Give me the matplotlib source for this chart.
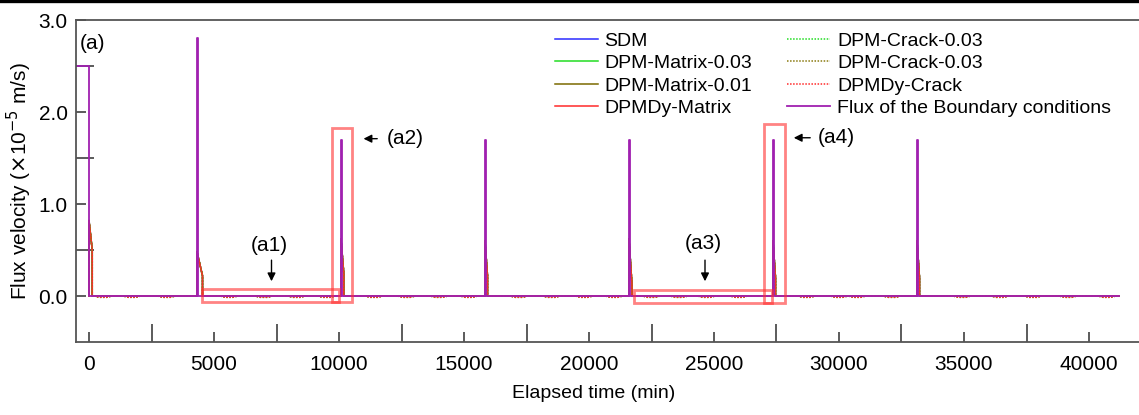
import numpy as np
import matplotlib
matplotlib.use("Agg")
import matplotlib.pyplot as plt
from matplotlib.patches import Rectangle
from matplotlib.lines import Line2D

plt.rcParams['font.family'] = ['Liberation Sans', 'DejaVu Sans']

# ---- data ----
t_end = 41200
bc_start = -520          # boundary flux is 2.5 before t = 0
bc_initial = 2.5
spike_t = [4320, 10080, 15840, 21600, 27360, 33120]
spike_peak = [2.8, 1.7, 1.7, 1.7, 1.7, 1.7]
spike_width = 40

event_t = [0, 4320, 10080, 15840, 21600, 27360, 33120]
resp_peak = [0.82, 0.48, 0.62, 0.6, 0.62, 0.6, 0.6]
resp_tail = [0.5, 0.22, 0.25, 0.22, 0.12, 0.2, 0.2]
resp_len = [130, 220, 110, 100, 120, 100, 100]

dip_t = [560, 1720, 3100, 5600, 7000, 8300, 9500, 11400, 12700, 14000, 15200,
         17200, 18500, 19800, 21000, 22500, 23600, 24700, 26000, 28700, 30000,
         30720, 32120, 34920, 36440, 37760, 39160, 40720]
dip_depth = 0.014

names = ["SDM", "DPM-Matrix-0.03", "DPM-Matrix-0.01", "DPMDy-Matrix",
         "DPM-Crack-0.03", "DPM-Crack-0.03", "DPMDy-Crack",
         "Flux of the Boundary conditions"]
colors = ["#2b2bff", "#22dd22", "#7a6a00", "#ff2a2a",
          "#22dd22", "#8a7a10", "#ff2a2a", "#a020b0"]
styles = ["-", "-", "-", "-", (0, (1, 1)), (0, (1, 1)), (0, (1, 1)), "-"]
has_dips = [False, False, False, False, True, True, True, False]


def boundary():
    t = [bc_start, 0, 0]
    v = [bc_initial, bc_initial, 0]
    for ts, pk in zip(spike_t, spike_peak):
        t += [ts, ts, ts + spike_width, ts + spike_width]
        v += [0, pk, pk, 0]
    t.append(t_end)
    v.append(0)
    return t, v


def response(dips):
    pts = []
    for te, pk, tl, ln in zip(event_t, resp_peak, resp_tail, resp_len):
        pts += [(te, 0), (te, pk), (te + ln, tl), (te + ln, 0)]
    if dips:
        for td in dip_t:
            pts += [(td - 350, 0), (td - 150, -dip_depth),
                    (td + 150, -dip_depth), (td + 350, 0)]
    pts.sort(key=lambda p: p[0])
    pts.append((t_end, 0))
    t = [p[0] for p in pts]
    v = [p[1] for p in pts]
    return t, v


# ---- figure ----
W, H = 1139, 415
fig = plt.figure(figsize=(W / 100, H / 100), dpi=100)
ax_left, ax_right, ax_top, ax_bot = 76, 1160, 20, 342
ax = fig.add_axes([ax_left / W, 1 - ax_bot / H, (ax_right - ax_left) / W,
                   (ax_bot - ax_top) / H])

for i in range(7):
    t, v = response(has_dips[i])
    ax.plot(t, v, color=colors[i], ls=styles[i], lw=1.1, label=names[i])
bt, bv = boundary()
ax.plot(bt, bv, color=colors[7], lw=1.3, label=names[7])

ax.set_xlim(bc_start, (ax_right - 89) / 0.025)
ax.set_ylim(-0.5, 3.0)

ax.set_xticks(np.arange(0, 40001, 5000))
ax.set_xticks(np.arange(2500, 42001, 5000), minor=True)
ax.set_yticks([0.0, 1.0, 2.0, 3.0])
ax.set_yticks([0.5, 1.5, 2.5], minor=True)
ax.set_yticklabels(["0.0", "1.0", "2.0", "3.0"])
ax.tick_params(which="major", direction="in", length=7, width=1.2,
               color="#404040", labelsize=15)
ax.tick_params(which="minor", direction="in", length=13, width=1.2,
               color="#404040")
ax.tick_params(axis="x", pad=9)
ax.tick_params(axis="y", pad=6)
for s in ["left", "bottom", "top"]:
    ax.spines[s].set_color("#555555")
    ax.spines[s].set_linewidth(1.3)
ax.spines["right"].set_visible(False)

ax.set_xlabel("Elapsed time (min)", fontsize=14)
ax.xaxis.set_label_coords((594 - ax_left) / (ax_right - ax_left), -0.135)
ax.set_ylabel(r"Flux velocity ($\times$10$^{-5}$ m/s)", fontsize=15, labelpad=3)

ax.text(-360, 2.75, "(a)", fontsize=15, va="center", ha="left")

# zoom boxes
boxes = [(4500, -0.06, 10000, 0.08), (9700, -0.06, 10530, 1.83),
         (21800, -0.08, 27330, 0.07), (27000, -0.08, 27840, 1.87)]
for x0, y0, x1, y1 in boxes:
    ax.add_patch(Rectangle((x0, y0), x1 - x0, y1 - y0, fill=False,
                           edgecolor="#ff3030", lw=2.0, alpha=0.6, zorder=5))

arr = dict(arrowstyle="-|>", color="black", lw=1.0, mutation_scale=12)
ax.annotate("", xy=(7300, 0.13), xytext=(7300, 0.42), arrowprops=arr)
ax.text(7200, 0.55, "(a1)", fontsize=15, ha="center", va="center")
ax.annotate("", xy=(24640, 0.13), xytext=(24640, 0.42), arrowprops=arr)
ax.text(24560, 0.57, "(a3)", fontsize=15, ha="center", va="center")
ax.annotate("", xy=(10870, 1.71), xytext=(11640, 1.71), arrowprops=arr)
ax.text(11930, 1.71, "(a2)", fontsize=15, ha="left", va="center")
ax.annotate("", xy=(28080, 1.72), xytext=(28960, 1.72), arrowprops=arr)
ax.text(29160, 1.72, "(a4)", fontsize=15, ha="left", va="center")

ax.legend(loc="upper left", bbox_to_anchor=(555 / W, 1 - 32 / H),
          bbox_transform=fig.transFigure, ncol=2, frameon=False,
          fontsize=14, borderpad=0, borderaxespad=0, handlelength=2.2,
          handletextpad=0.35, columnspacing=1.8, labelspacing=0.25)

# thick rule at the top of the page
fig.add_artist(Line2D([0, 1], [1 - 1.5 / H, 1 - 1.5 / H], color="black",
                      lw=2.4, transform=fig.transFigure))

fig.savefig("out.png", dpi=100)
